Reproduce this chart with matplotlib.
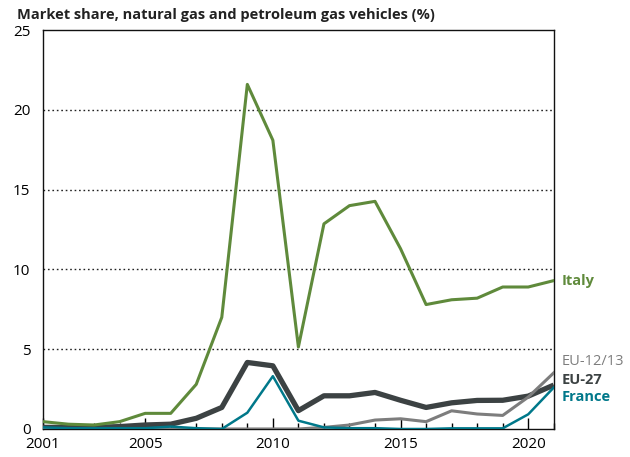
import matplotlib.pyplot as plt
import numpy as np

# Market share of natural gas / LPG vehicles, per year (%)
years = np.arange(2001, 2022)
italy = [0.46, 0.3, 0.25, 0.46, 0.98, 0.98, 2.8, 7.0, 21.6, 18.1, 5.14,
         12.86, 14.0, 14.27, 11.3, 7.8, 8.1, 8.2, 8.9, 8.9, 9.3]
eu27 = [0.1, 0.1, 0.1, 0.15, 0.25, 0.3, 0.67, 1.35, 4.17, 3.96, 1.15,
        2.08, 2.08, 2.29, 1.8, 1.35, 1.64, 1.79, 1.8, 2.06, 2.75]
eu1213 = [0.0, 0.0, 0.0, 0.0, 0.0, 0.0, 0.0, 0.0, 0.0, 0.0, 0.0,
          0.1, 0.25, 0.56, 0.64, 0.46, 1.14, 0.94, 0.85, 2.0, 3.52]
france = [0.1, 0.05, 0.05, 0.05, 0.05, 0.15, 0.05, 0.0, 1.02, 3.31, 0.52,
          0.1, 0.05, 0.05, 0.0, 0.0, 0.04, 0.04, 0.04, 0.92, 2.6]

xticks = [2001, 2005, 2010, 2015, 2020]
yticks = [0, 5, 10, 15, 20, 25]

GREEN = "#5f8a3b"
DARK = "#3c4243"
GREY = "#7d7d7d"
TEAL = "#00788a"

plt.rcParams['font.family'] = ['Open Sans', 'DejaVu Sans']

fig = plt.figure(figsize=(6.3, 4.57), dpi=100)
ax = fig.add_axes([0.0683, 0.0613, 0.8107, 0.8727])

for y in yticks[1:-1]:
    ax.axhline(y, color="#222222", lw=1.0, linestyle=(0, (1.2, 2.0)), zorder=1)

ax.plot(years, eu27, color=DARK, lw=3.8, solid_capstyle="butt", zorder=3)
ax.plot(years, eu1213, color=GREY, lw=2.2, zorder=4)
ax.plot(years, france, color=TEAL, lw=1.8, zorder=5)
ax.plot(years, italy, color=GREEN, lw=2.2, zorder=6)

ax.set_xlim(2001, 2021)
ax.set_ylim(0, 25)
ax.set_yticks(yticks)
ax.set_xticks(xticks)
ax.set_xticks(years, minor=True)
ax.tick_params(axis="y", length=0, pad=9, labelsize=11)
ax.tick_params(axis="x", which="major", direction="in", length=8, width=1.0,
               pad=6, labelsize=11)
ax.tick_params(axis="x", which="minor", direction="in", length=4, width=1.0)
for s in ax.spines.values():
    s.set_linewidth(1.0)
    s.set_color("#111111")

fig.text(0.027, 0.968, "Market share, natural gas and petroleum gas vehicles (%)",
         fontsize=10.5, fontweight="bold", color="#222222", va="center")

# series labels at the right edge
ax.text(2021.3, italy[-1], "Italy", color=GREEN, fontsize=10.5,
        fontweight="bold", va="center")
ax.text(2021.3, 4.2, "EU-12/13", color=GREY, fontsize=10.5, va="center")
ax.text(2021.3, 3.05, "EU-27", color=DARK, fontsize=10.5,
        fontweight="bold", va="center")
ax.text(2021.3, 2.0, "France", color=TEAL, fontsize=10.5,
        fontweight="bold", va="center")

fig.savefig("out.png", dpi=100)
